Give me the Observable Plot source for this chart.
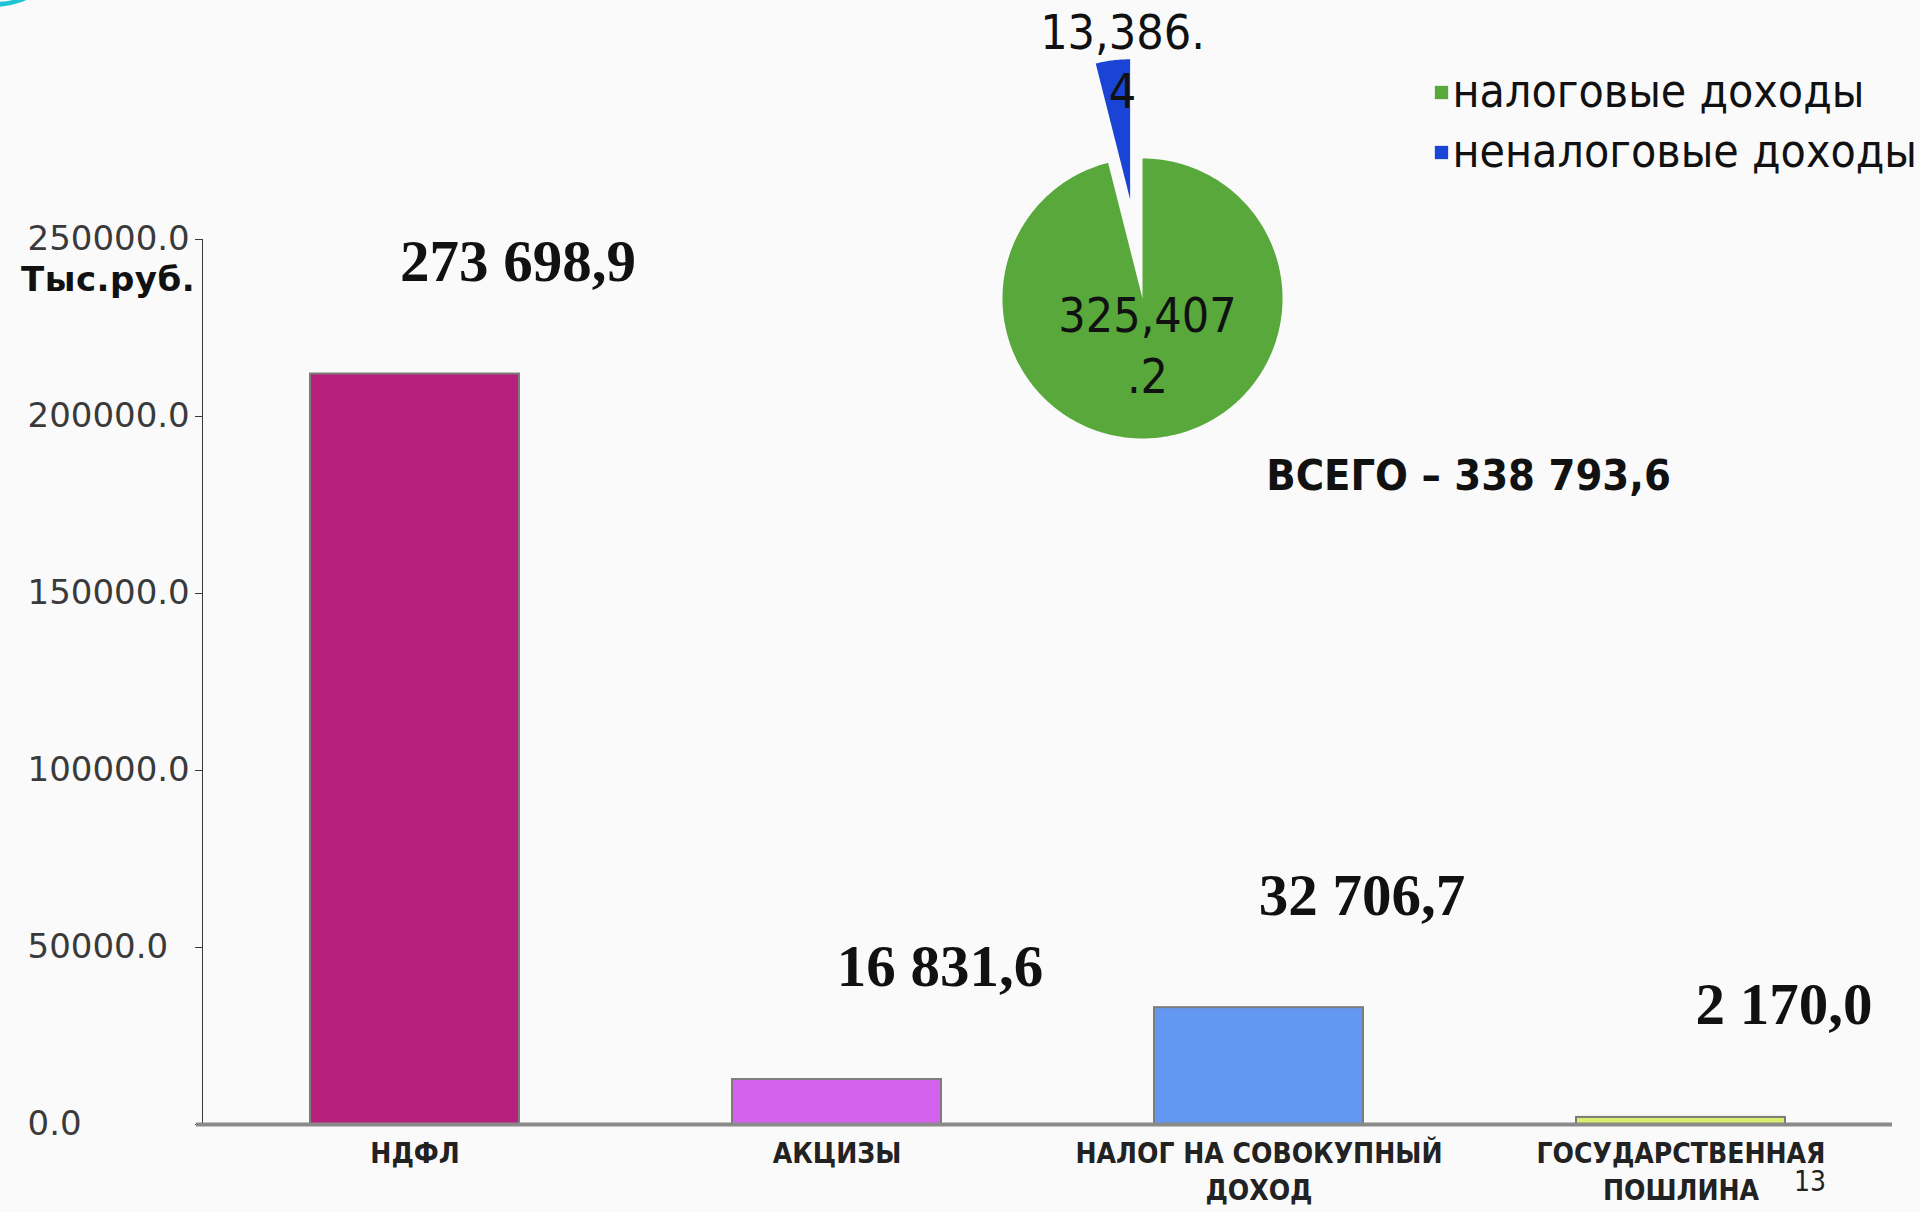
<!DOCTYPE html>
<html>
<head>
<meta charset="utf-8">
<script src="https://cdn.jsdelivr.net/npm/d3@7"></script>
<script src="https://cdn.jsdelivr.net/npm/@observablehq/plot@0.6"></script>
<style>
  html, body { margin: 0; padding: 0; background: #fafafa; }
  #root { position: relative; width: 1920px; height: 1212px; overflow: hidden; background: #fafafa; }
  #bars { position: absolute; left: 0; top: 0; }
  #pie { position: absolute; left: 950px; top: 0; }
  .unit { position: absolute; left: 21px; top: 258px; font: bold 34px "DejaVu Sans", sans-serif; color: #111; line-height: 42px; letter-spacing: 0.5px; }
  .page { position: absolute; left: 1794px; top: 1164px; font: 28px "DejaVu Sans Condensed", "DejaVu Sans", sans-serif; font-stretch: condensed; color: #222; line-height: 36px; }
  .arc { position: absolute; left: -70px; top: -108px; width: 130px; height: 115px; border-radius: 50%; border-bottom: 5px solid #1ec3d6; box-sizing: border-box; }
  #bars [aria-label="y-axis tick label"] { fill: #3a3a3a; text-anchor: start; }
</style>
</head>
<body>
<div id="root">
  <div id="bars"></div>
  <div id="pie"></div>
  <div class="unit">Тыс.руб.</div>
  <div class="page">13</div>
  <div class="arc"></div>
</div>
<script>
// ---- Bar chart data ----
const categories = ["НДФЛ", "АКЦИЗЫ", "НАЛОГ НА СОВОКУПНЫЙ\nДОХОД", "ГОСУДАРСТВЕННАЯ\nПОШЛИНА"];
const barValues = [212000, 12700, 33000, 2000];
const barLabels = ["273 698,9", "16 831,6", "32 706,7", "2 170,0"];
const barColors = ["#b8207e", "#d462ef", "#6398f2", "#dcec6c"];
const yTicks = [0, 50000, 100000, 150000, 200000, 250000];

// ---- Pie data ----
const pieNames = ["налоговые доходы", "неналоговые доходы"];
const pieValues = [325407.2, 13386.4];
const pieLabelLines = [["325,407", ".2"], ["13,386.", "4"]];
const pieColors = ["#58a83b", "#1a44d6"];
const pieExplode = [0, 100];
const totalLabel = "ВСЕГО – 338 793,6";

const barData = categories.map((c, i) => ({cat: c, value: barValues[i], label: barLabels[i]}));

const bars = Plot.plot({
  width: 1920,
  height: 1212,
  marginTop: 239,
  marginBottom: 88,
  marginLeft: 202,
  marginRight: 28,
  style: {fontFamily: "'DejaVu Sans', sans-serif", fontSize: "34px", background: "transparent", color: "#3a3a3a"},
  x: {domain: categories, paddingInner: 0.505, paddingOuter: 0.2525},
  y: {domain: [0, 250000], ticks: yTicks, tickFormat: d3.format(".1f"), tickSize: 7, tickPadding: 168, line: true, label: null},
  color: {domain: categories, range: barColors},
  marks: [
    Plot.barY(barData, {x: "cat", y: "value", fill: "cat", stroke: "#7c7c7c", strokeWidth: 2}),
    Plot.ruleY([0], {stroke: "#8a8a8a", strokeWidth: 4, insetLeft: -6}),
    Plot.axisX({tickSize: 0, tickPadding: 12, fontSize: 28, fontWeight: "bold",
      fontFamily: "'DejaVu Sans Condensed', 'DejaVu Sans', sans-serif", lineHeight: 1.32, fill: "#222", label: null}),
    Plot.text(barData, {x: "cat", y: "value", text: "label", dx: 103, dy: -112,
      fontSize: 59, fontWeight: "bold", fontFamily: "'Liberation Serif', 'DejaVu Serif', serif", fill: "#111"})
  ]
});
document.getElementById("bars").appendChild(bars);

// ---- Pie chart ----
const pieW = 970, pieH = 560;
const cx = 192, cy = 298, R = 140;
const arcs = d3.pie().sort(null).value(d => d)(pieValues);
const sliceMarks = arcs.map((a, i) => {
  const mid = (a.startAngle + a.endAngle) / 2;
  const ox = cx + pieExplode[i] * Math.sin(mid);
  const oy = cy - pieExplode[i] * Math.cos(mid);
  const pts = [{x: ox, y: oy}];
  const n = Math.max(2, Math.ceil((a.endAngle - a.startAngle) / 0.01));
  for (let j = 0; j <= n; j++) {
    const t = a.startAngle + (a.endAngle - a.startAngle) * j / n;
    pts.push({x: ox + R * Math.sin(t), y: oy - R * Math.cos(t)});
  }
  pts.push({x: ox, y: oy});
  return Plot.line(pts, {x: "x", y: "y", fill: pieColors[i], stroke: "none", curve: "linear"});
});

const pieText = [
  {x: 197, y: 316, t: pieLabelLines[0][0]},
  {x: 197, y: 377, t: pieLabelLines[0][1]},
  {x: 172, y: 33, t: pieLabelLines[1][0]},
  {x: 172, y: 92, t: pieLabelLines[1][1]}
];
const legendData = pieNames.map((n, i) => ({name: n, color: pieColors[i], y: 92 + i * 60}));

const pie = Plot.plot({
  width: pieW,
  height: pieH,
  margin: 0,
  style: {background: "transparent"},
  x: {domain: [0, pieW], range: [0, pieW], axis: null},
  y: {domain: [0, pieH], range: [0, pieH], axis: null},
  marks: [
    ...sliceMarks,
    Plot.text(pieText, {x: "x", y: "y", text: "t", fontSize: 48,
      fontFamily: "'DejaVu Sans Condensed', 'DejaVu Sans', sans-serif", fill: "#111"}),
    Plot.dot(legendData, {x: 491, y: "y", symbol: "square", r: 7.5, fill: "color", stroke: "none"}),
    Plot.text(legendData, {x: 502, y: "y", text: "name", textAnchor: "start", fontSize: 46,
      fontFamily: "'DejaVu Sans Condensed', 'DejaVu Sans', sans-serif", fill: "#111"}),
    Plot.text([totalLabel], {x: 518, y: 476, text: d => d, fontSize: 43, fontWeight: "bold",
      fontFamily: "'DejaVu Sans Condensed', 'DejaVu Sans', sans-serif", fill: "#111"})
  ]
});
document.getElementById("pie").appendChild(pie);
</script>
</body>
</html>
